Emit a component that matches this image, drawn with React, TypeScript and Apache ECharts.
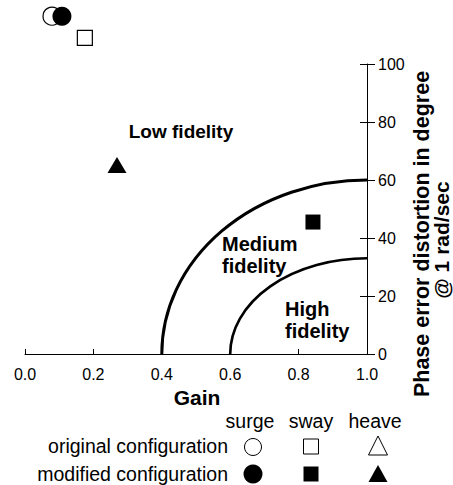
import React, { useEffect, useRef } from 'react';
import * as echarts from 'echarts';

// ---- data ----
const gainMin = 0;
const gainMax = 1;
const gainStep = 0.2;
const phaseMin = 0;
const phaseMax = 100;
const phaseStep = 20;

// fidelity boundaries: quarter ellipses from (gain, 0) to (1.0, phase)
const boundaryGainAtZeroPhase = [0.4, 0.6];
const boundaryPhaseAtUnityGain = [60, 33];

// configurations [gain, phase]
const surgeOriginal = [[0.079, 116.5]];
const surgeModified = [[0.108, 116.5]];
const swayOriginal = [[0.175, 109]];
const swayModified = [[0.842, 45.5]];
const heaveModified = [[0.269, 65.2]];

const regionLabels = ['Low fidelity', 'Medium\nfidelity', 'High\nfidelity'];
const legendColumns = ['surge', 'sway', 'heave'];
const legendRows = ['original configuration', 'modified configuration'];
const xTitle = 'Gain';
const yTitle = ['Phase error distortion in degree', '@ 1 rad/sec'];

const FONT = "'Liberation Sans', Arial, sans-serif";

function textEl(text: string, x: number, y: number, size: number, bold: boolean, align: string, extra: any = {}) {
  return {
    type: 'text',
    x,
    y,
    ...extra,
    style: {
      text,
      fill: '#000',
      fontSize: size,
      fontWeight: bold ? 'bold' : 'normal',
      fontFamily: FONT,
      align,
      textAlign: align,
      verticalAlign: 'middle',
      textVerticalAlign: 'middle',
      lineHeight: 22,
    },
  };
}

export default function App() {
  const ref = useRef<HTMLDivElement>(null);

  useEffect(() => {
    if (!ref.current) return;
    const chart = echarts.init(ref.current, undefined, { renderer: 'svg' });

    const widths = [3, 2.6];
    const renderBoundary = (params: any, api: any) => {
      const g0 = api.value(0);
      const p1 = api.value(1);
      const start = api.coord([g0, 0]);
      const end = api.coord([gainMax, p1]);
      const corner = api.coord([gainMax, 0]);
      const rx = corner[0] - start[0];
      const ry = corner[1] - end[1];
      const d = `M${start[0]} ${start[1]} A${rx} ${ry} 0 0 1 ${end[0]} ${end[1]}`;
      return {
        type: 'path',
        shape: { pathData: d },
        style: { stroke: '#000', lineWidth: widths[params.dataIndex] || 3, fill: 'none' },
      };
    };

    const open = { color: '#fff', borderColor: '#000', borderWidth: 1.2, opacity: 1 };
    const filled = { color: '#000', opacity: 1 };

    const colX = [250, 311, 375];
    const rowY = [446, 474];

    const graphic: any[] = [
      textEl(regionLabels[0], 181, 131, 19, true, 'center'),
      textEl(regionLabels[1], 222, 255, 20, true, 'left'),
      textEl(regionLabels[2], 285, 320, 20, true, 'left'),
      textEl(xTitle, 197, 397, 21, true, 'center'),
      textEl(yTitle[0], 422, 234, 21.5, true, 'center', { rotation: Math.PI / 2 }),
      textEl(yTitle[1], 441, 240, 21, true, 'center', { rotation: Math.PI / 2 }),
      ...legendColumns.map((c, i) => textEl(c, colX[i], 421, 19.5, false, 'center')),
      ...legendRows.map((r, i) => textEl(r, 228, rowY[i], 19.5, false, 'right')),
      { type: 'circle', shape: { cx: 253, cy: 447, r: 8.5 }, style: { fill: '#fff', stroke: '#000', lineWidth: 1 } },
      { type: 'rect', shape: { x: 303.5, y: 439, width: 15, height: 15 }, style: { fill: '#fff', stroke: '#000', lineWidth: 1 } },
      { type: 'polygon', shape: { points: [[378, 436], [387.5, 455], [368.5, 455]] }, style: { fill: '#fff', stroke: '#000', lineWidth: 1 } },
      { type: 'circle', shape: { cx: 253, cy: 474, r: 9.5 }, style: { fill: '#000' } },
      { type: 'rect', shape: { x: 303.5, y: 466.5, width: 15, height: 15 }, style: { fill: '#000' } },
      { type: 'polygon', shape: { points: [[378, 465], [387.5, 482], [368.5, 482]] }, style: { fill: '#000' } },
    ];

    const gridBox = { left: 25, right: 86, top: 64, bottom: 131 };
    const yBase = {
      type: 'value',
      position: 'right',
      min: phaseMin,
      max: phaseMax,
      interval: phaseStep,
      splitLine: { show: false },
    };
    const xBase = {
      type: 'value',
      min: gainMin,
      max: gainMax,
      interval: gainStep,
      splitLine: { show: false },
    };

    chart.setOption({
      animation: false,
      backgroundColor: '#fff',
      grid: [gridBox, gridBox],
      xAxis: [
        {
          ...xBase,
          gridIndex: 0,
          axisLine: { show: true, onZero: false, lineStyle: { color: '#000', width: 1 } },
          axisTick: { show: true, inside: true, length: 5, lineStyle: { color: '#000', width: 1 } },
          axisLabel: {
            color: '#000',
            fontSize: 16,
            fontFamily: FONT,
            margin: 12,
            formatter: (v: number) => v.toFixed(1),
          },
        },
        {
          ...xBase,
          gridIndex: 1,
          show: false,
        },
      ],
      yAxis: [
        {
          ...yBase,
          gridIndex: 0,
          axisLine: { show: true, onZero: false, lineStyle: { color: '#000', width: 1 } },
          axisTick: { show: true, inside: false, length: 8, lineStyle: { color: '#000', width: 1 } },
          axisLabel: { color: '#000', fontSize: 16, fontFamily: FONT, margin: 11 },
        },
        {
          ...yBase,
          gridIndex: 1,
          axisLine: { show: false, onZero: false },
          axisTick: { show: true, inside: true, length: 7, lineStyle: { color: '#000', width: 1 } },
          axisLabel: { show: false },
        },
      ],
      series: [
        {
          type: 'custom',
          coordinateSystem: 'cartesian2d',
          data: boundaryGainAtZeroPhase.map((g, i) => [g, boundaryPhaseAtUnityGain[i]]),
          renderItem: renderBoundary,
          clip: false,
          silent: true,
        },
        { type: 'scatter', data: surgeOriginal, symbol: 'circle', symbolSize: 18, itemStyle: open, clip: false },
        { type: 'scatter', data: swayOriginal, symbol: 'rect', symbolSize: 15, itemStyle: open, clip: false },
        { type: 'scatter', data: surgeModified, symbol: 'circle', symbolSize: 19, itemStyle: filled, clip: false },
        { type: 'scatter', data: swayModified, symbol: 'rect', symbolSize: 15, itemStyle: filled, clip: false },
        { type: 'scatter', data: heaveModified, symbol: 'triangle', symbolSize: [19, 16], itemStyle: filled, clip: false },
      ],
      graphic,
    });

    return () => chart.dispose();
  }, []);

  return (
    <div
      ref={ref}
      style={{ position: 'fixed', left: 0, top: 0, width: 453, height: 485, background: '#fff' }}
    />
  );
}
